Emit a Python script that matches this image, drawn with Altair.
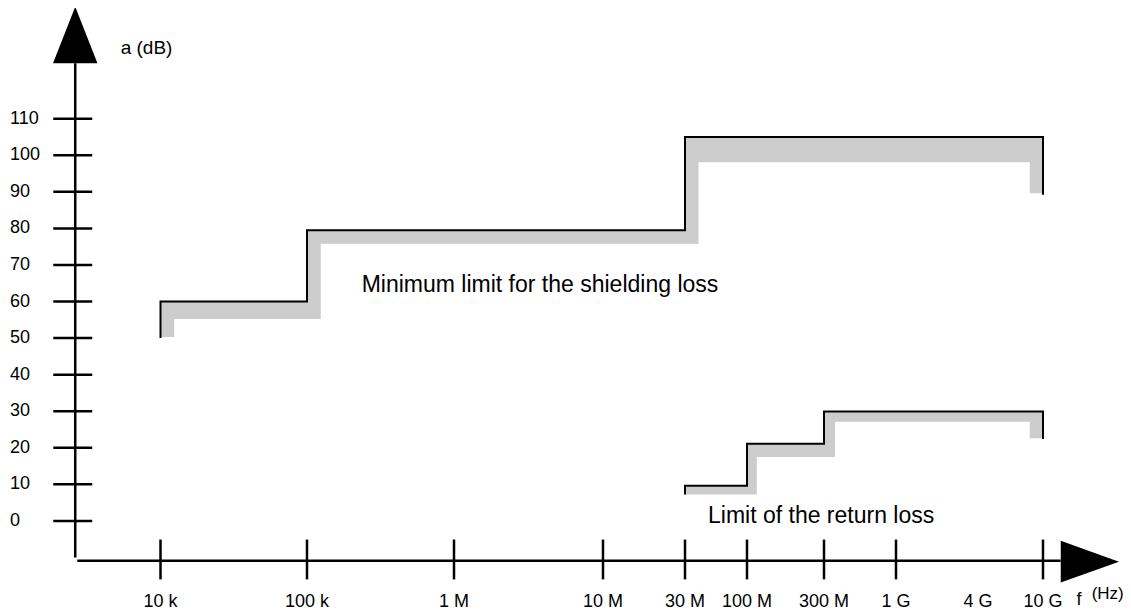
import altair as alt
import numpy as np
import pandas as pd

# ---------------- data ----------------
# x axis (frequency, Hz)
tick_f = [1e4, 1e5, 1e6, 1e7, 3e7, 1e8, 3e8, 1e9, 1e10]
label_f = [1e4, 1e5, 1e6, 1e7, 3e7, 1e8, 3e8, 1e9, 4e9, 1e10]
label_text = ["10 k", "100 k", "1 M", "10 M", "30 M", "100 M", "300 M", "1 G", "4 G", "10 G"]
# y axis (dB)
y_ticks = [0, 10, 20, 30, 40, 50, 60, 70, 80, 90, 100, 110]

# Minimum limit for the shielding loss (step corners)
shield_f = [1e4, 1e4, 1e5, 1e5, 3e7, 3e7, 1e10, 1e10]
shield_a = [50, 60, 60, 79.5, 79.5, 105, 105, 89.2]
# grey band under the shielding limit
shield_band_f = [1e4, 1.24e4, 1e5, 1.24e5, 3e7, 3.9e7, 8.3e9, 1e10]
shield_band_top = [60, 60, 79.5, 79.5, 105, 105, 105, 105]
shield_band_bot = [50.3, 55.2, 55.2, 75.8, 75.8, 98.1, 89.6, 89.6]

# Limit of the return loss (step corners)
return_f = [3e7, 3e7, 1e8, 1e8, 3e8, 3e8, 1e10, 1e10]
return_a = [7.2, 9.6, 9.6, 21.1, 21.1, 29.9, 29.9, 22.4]
# grey band under the return-loss limit
return_band_f = [3e7, 1e8, 1.15e8, 3e8, 3.6e8, 8.3e9, 1e10]
return_band_top = [9.6, 21.1, 21.1, 29.9, 29.9, 29.9, 29.9]
return_band_bot = [7.2, 7.2, 17.5, 17.5, 27.1, 22.6, 22.6]

# ---------------- layout / style ----------------
W, H = 1115, 602
FONT = "Liberation Sans"
GREY = "#cccccc"
LABEL_SIZE = 18

# hand-drawn (non-uniform) decade positions of the schematic axis
x_scale = alt.Scale(
    domain=[4, 5, 6, 7, float(np.log10(3e7)), 8, float(np.log10(3e8)), 9, float(np.log10(4e9)), 10],
    range=[152.5, 299, 446, 595, 677, 739, 816, 888, 970, 1035],
    nice=False, zero=False,
)
y_scale = alt.Scale(domain=[-24.37, 140.29], range=[H, 0], nice=False, zero=False)

# frame positions (in data units)
YAX_LX = 3.418           # position of the vertical axis
XAX_A = -10.9            # position of the horizontal axis
YAX_TOP, YAX_BOT = 125.2, -10.0
XAX_L, XAX_R = 3.432, 10.108
YTICK_L, YTICK_R = 3.268, 3.534
XTICK_T, XTICK_B = -5.1, -16.0
YLAB_LX = 2.973
XLAB_A = -23.46


def lx(f):
    return [float(np.log10(v)) for v in f]


X = lambda: alt.X("lx:Q", scale=x_scale, axis=None)
Y = lambda f="a": alt.Y(f"{f}:Q", scale=y_scale, axis=None)

# grey bands
shield_band = pd.DataFrame({"lx": lx(shield_band_f), "top": shield_band_top, "bot": shield_band_bot})
return_band = pd.DataFrame({"lx": lx(return_band_f), "top": return_band_top, "bot": return_band_bot})
band_layers = [
    alt.Chart(df).mark_area(interpolate="step-after", color=GREY, opacity=1).encode(
        x=X(), y=Y("top"), y2="bot:Q"
    )
    for df in (shield_band, return_band)
]

# black limit lines
shield_line = pd.DataFrame({"lx": lx(shield_f), "a": shield_a, "i": range(len(shield_f))})
return_line = pd.DataFrame({"lx": lx(return_f), "a": return_a, "i": range(len(return_f))})
line_layers = [
    alt.Chart(df).mark_line(color="black", strokeWidth=2, strokeJoin="miter", strokeCap="butt").encode(
        x=X(), y=Y(), order="i:Q"
    )
    for df in (shield_line, return_line)
]

# axes lines
yaxis = alt.Chart(pd.DataFrame({"lx": [YAX_LX], "a": [YAX_BOT], "a2": [YAX_TOP]})).mark_rule(
    color="black", strokeWidth=2.5).encode(x=X(), y=Y(), y2="a2:Q")
xaxis = alt.Chart(pd.DataFrame({"lx": [XAX_L], "lx2": [XAX_R], "a": [XAX_A]})).mark_rule(
    color="black", strokeWidth=2.5).encode(x=X(), x2="lx2:Q", y=Y())

# ticks
ytick_df = pd.DataFrame({"a": y_ticks, "lx": YTICK_L, "lx2": YTICK_R})
yticks = alt.Chart(ytick_df).mark_rule(color="black", strokeWidth=2.5).encode(
    x=X(), x2="lx2:Q", y=Y())
xtick_df = pd.DataFrame({"lx": lx(tick_f), "a": XTICK_T, "a2": XTICK_B})
xticks = alt.Chart(xtick_df).mark_rule(color="black", strokeWidth=2.5).encode(
    x=X(), y=Y(), y2="a2:Q")

# tick labels
ylab_df = pd.DataFrame({"a": y_ticks, "lx": YLAB_LX, "t": [str(v) for v in y_ticks]})
ylabels = alt.Chart(ylab_df).mark_text(
    align="left", baseline="middle", font=FONT, fontSize=LABEL_SIZE, color="black").encode(
    x=X(), y=Y(), text="t:N")
xlab_df = pd.DataFrame({"lx": lx(label_f), "a": XLAB_A, "t": label_text})
xlabels = alt.Chart(xlab_df).mark_text(
    align="center", baseline="alphabetic", font=FONT, fontSize=LABEL_SIZE, color="black").encode(
    x=X(), y=Y(), text="t:N")

# arrow heads
arrows = [
    alt.Chart(pd.DataFrame({"lx": [YAX_LX], "a": [132.9]})).mark_point(
        shape="M-0.785,1L0,-1L0.785,1Z", size=3200, filled=True, color="black", opacity=1,
        strokeWidth=0).encode(x=X(), y=Y()),
    alt.Chart(pd.DataFrame({"lx": [10.287], "a": [-11.16]})).mark_point(
        shape="M-1,-0.715L1,0L-1,0.715Z", size=3400, filled=True, color="black", opacity=1,
        strokeWidth=0).encode(x=X(), y=Y()),
]

# annotations
def note(text, x, a, size, align="left"):
    return alt.Chart(pd.DataFrame({"lx": [x], "a": [a], "t": [text]})).mark_text(
        align=align, baseline="alphabetic", font=FONT, fontSize=size, color="black").encode(
        x=X(), y=Y(), text="t:N")

notes = [
    note("a (dB)", 3.728, 127.6, 19),
    note("Minimum limit for the shielding loss", 5.372, 62.6, 23),
    note("Limit of the return loss", 7.671, -0.46, 23),
    note("f", 10.22, -23.0, 18, "center"),
    note("(Hz)", 10.298, -21.3, 17),
]

chart = alt.layer(
    *band_layers, *line_layers, yaxis, xaxis, yticks, xticks, ylabels, xlabels, *arrows, *notes
).properties(
    width=W, height=H, padding=0, autosize=alt.AutoSizeParams(type="none")
).configure_view(stroke=None)

chart.save("out.html", embed_options={"renderer": "svg", "actions": False})
